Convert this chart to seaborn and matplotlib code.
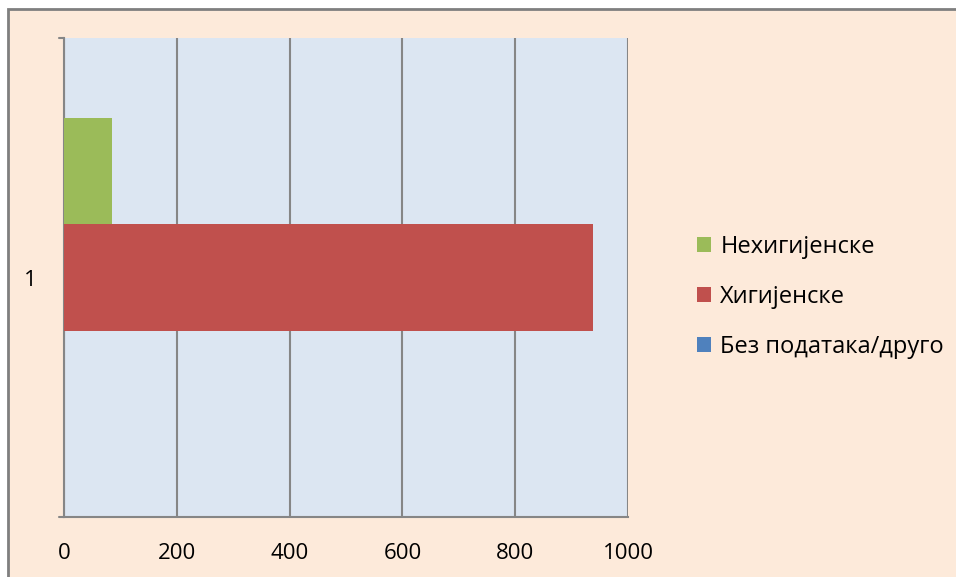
import pandas as pd
import matplotlib.pyplot as plt
import seaborn as sns
from matplotlib.patches import Rectangle

categories = ['1', '1', '1']
series = ['Нехигијенске', 'Хигијенске', 'Без података/друго']
values = [85, 938, 0]
colors = ['#9BBB59', '#C0504D', '#4F81BD']
xticks = [0, 200, 400, 600, 800, 1000]

df = pd.DataFrame({'cat': categories, 'series': series, 'value': values})

sns.set_style('white')
plt.rcParams['font.family'] = ['Open Sans', 'DejaVu Sans']
plt.rcParams['text.color'] = 'black'
plt.rcParams['xtick.color'] = 'black'
plt.rcParams['ytick.color'] = 'black'

fig = plt.figure(figsize=(9.56, 5.77), dpi=100, facecolor='white')
# chart area background with border (continues past right/bottom edges)
fig.patches.append(Rectangle((8 / 956, -0.05), 1.1, 1 - 9 / 577 + 0.05,
                             transform=fig.transFigure, facecolor='#FDEADA',
                             edgecolor='#7F7F7F', linewidth=2, zorder=-10))

ax = fig.add_axes([64 / 956, 60 / 577, 564 / 956, 479 / 577])
ax.set_facecolor('#DCE6F2')

sns.barplot(data=df, x='value', y='cat', hue='series', hue_order=series,
            palette=colors, orient='h', width=0.664, gap=0, ax=ax,
            saturation=1, edgecolor='none', zorder=3)

ax.set_xlim(0, 1000)
ax.set_ylim(0.5, -0.5)
ax.set_xticks(xticks)
ax.set_xticklabels([str(t) for t in xticks], fontsize=16)
ax.set_yticks([0])
ax.set_yticklabels(['1'], fontsize=16)
ax.set_xlabel('')
ax.set_ylabel('')
ax.grid(axis='x', color='#868686', linewidth=1.5, zorder=1)
ax.set_axisbelow(True)
for side in ['top', 'right']:
    ax.spines[side].set_visible(False)
for side in ['left', 'bottom']:
    ax.spines[side].set_color('#868686')
    ax.spines[side].set_linewidth(1.5)
ax.tick_params(axis='x', length=6, color='#868686', width=1.5, pad=13,
               labelcolor='black')
ax.tick_params(axis='y', length=0, pad=20, labelcolor='black')
# ticks at top/bottom of the y axis
ax.plot([-9, 0], [0.5, 0.5], color='#868686', lw=1.5, clip_on=False)
ax.plot([-9, 0], [-0.5, -0.5], color='#868686', lw=1.5, clip_on=False)

leg = ax.legend(title=None, loc='center left', bbox_to_anchor=(1.106, 0.459),
                frameon=False, fontsize=17, handlelength=0.6, handleheight=0.6,
                handletextpad=0.38, labelspacing=1.1, borderpad=0.4,
                borderaxespad=0)
for t in leg.get_texts():
    t.set_color('black')

fig.savefig('out.png', dpi=100, facecolor=fig.get_facecolor())
